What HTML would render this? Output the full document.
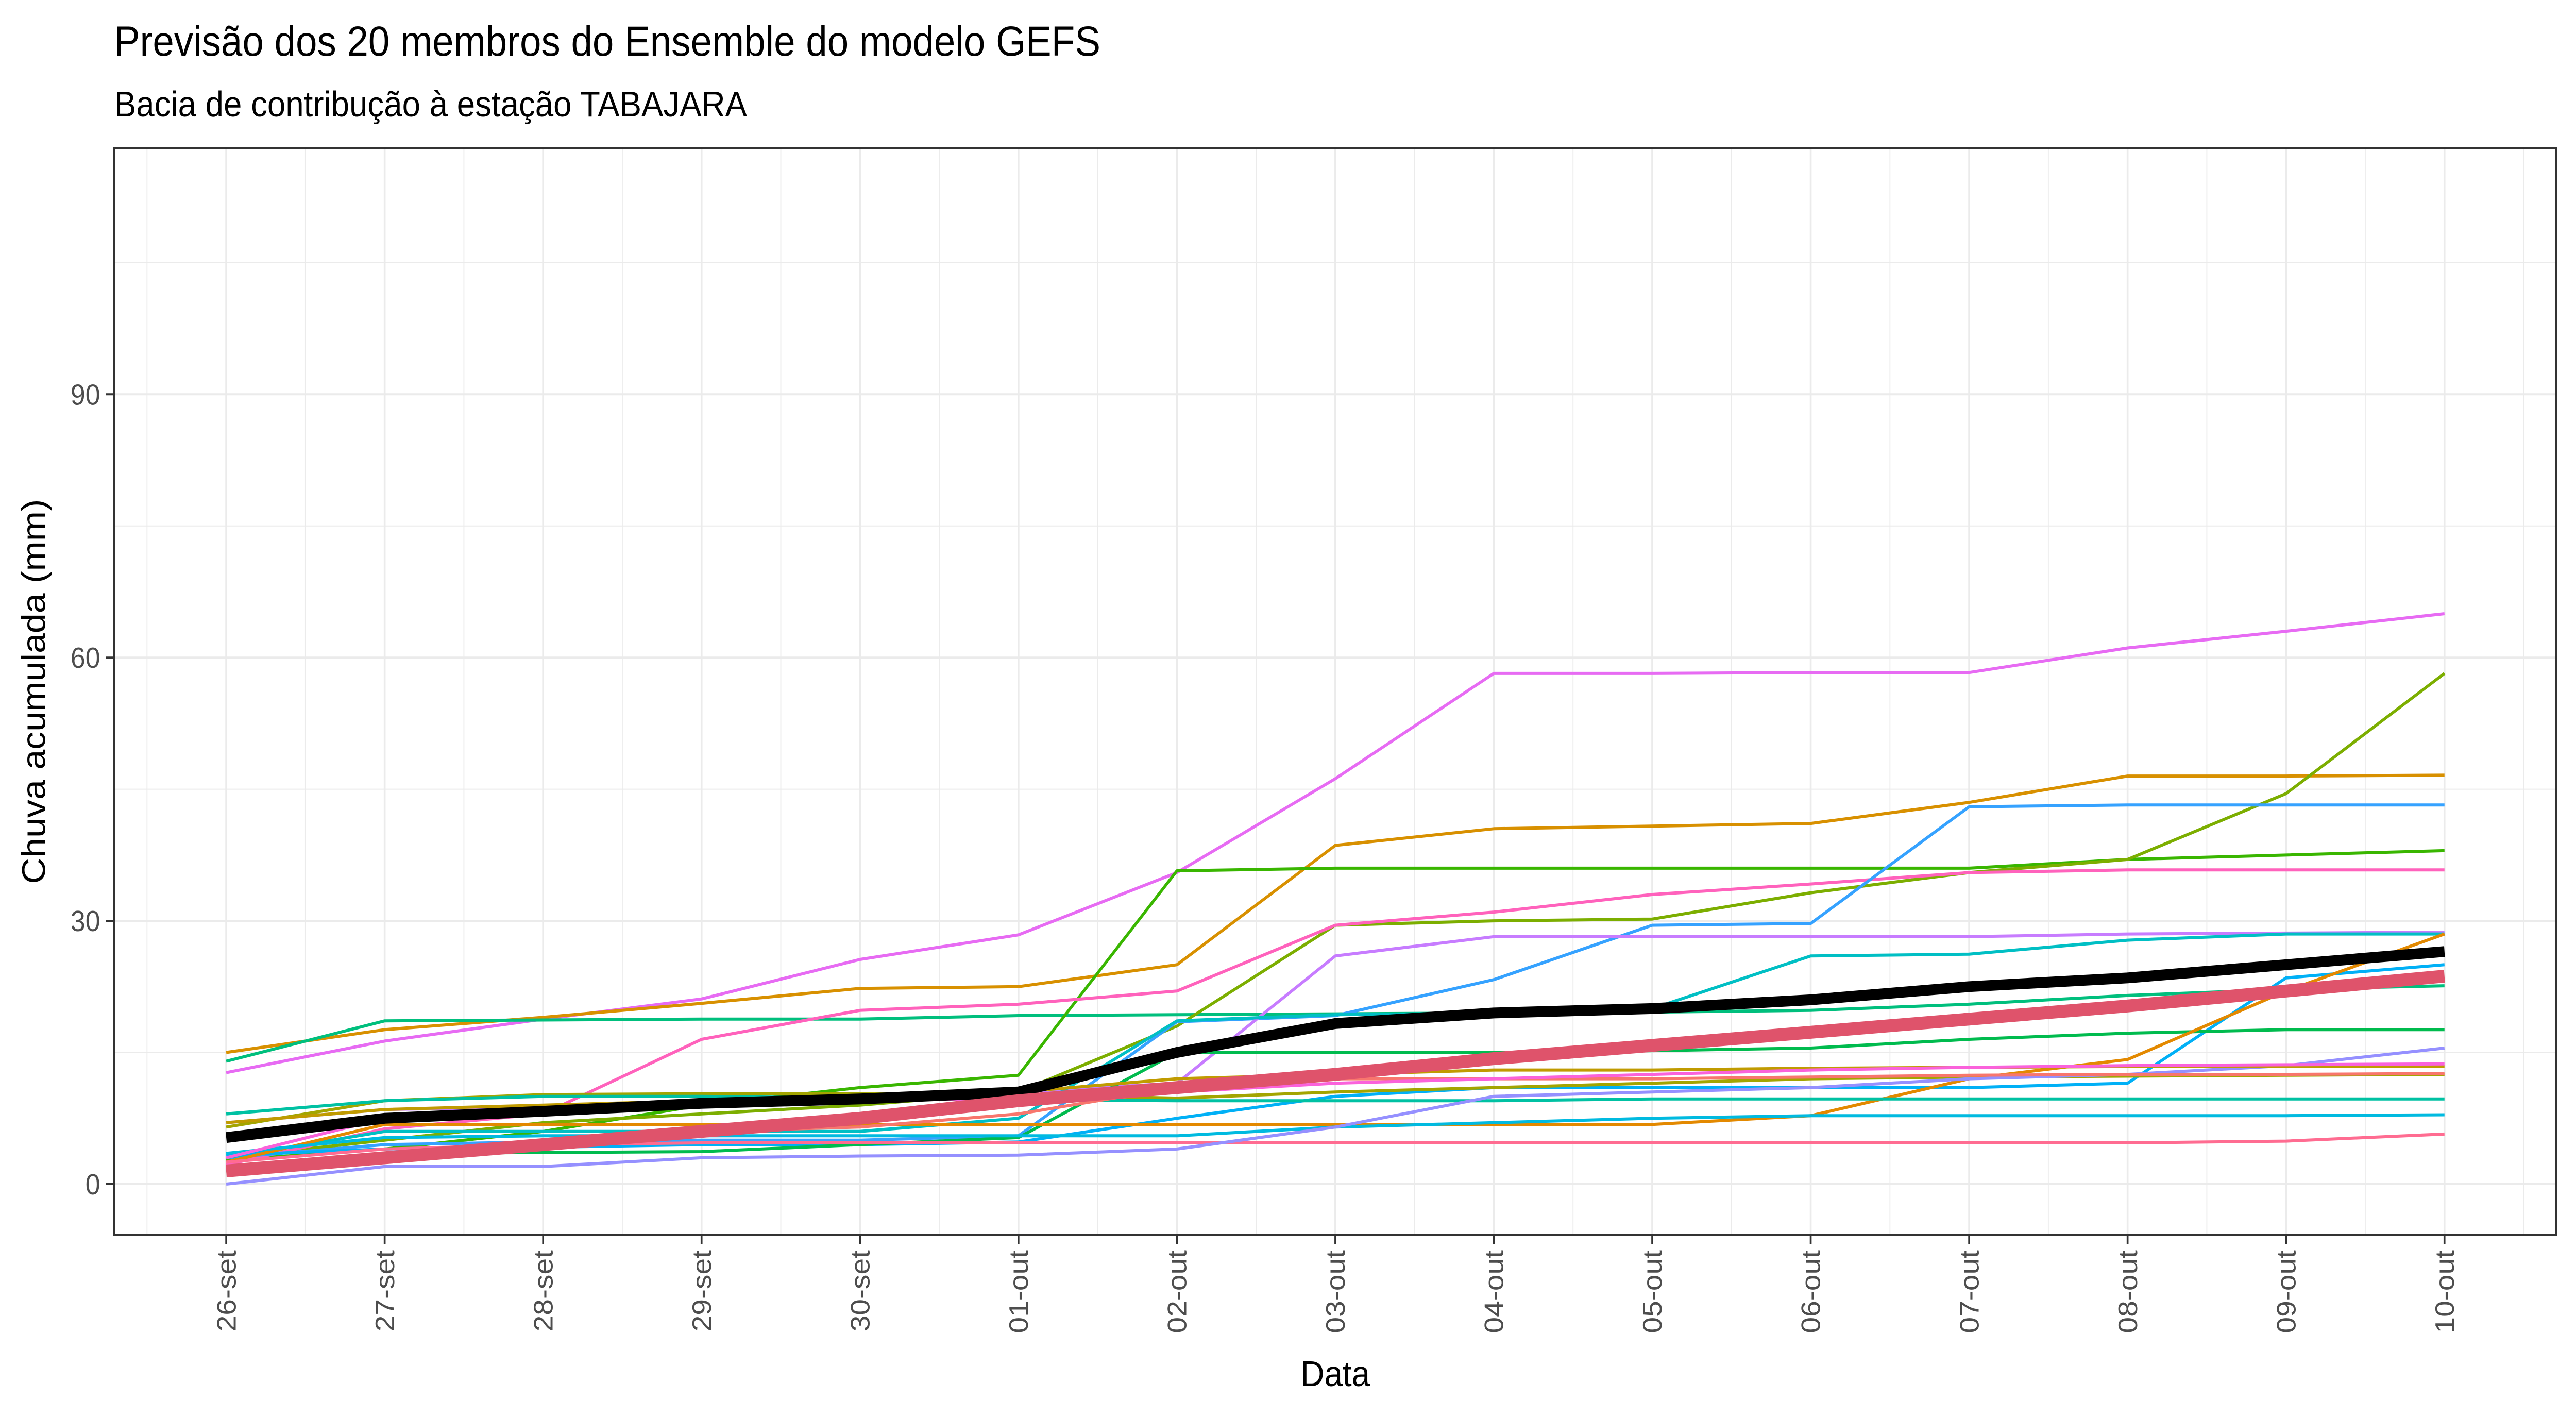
<!DOCTYPE html>
<html><head><meta charset="utf-8"><style>
html,body{margin:0;padding:0;background:#fff;overflow:hidden;width:100%;height:100%}
svg{display:block;width:100vw;height:100vh;font-family:"Liberation Sans",Arial,sans-serif}
</style></head><body>
<svg id="chart" viewBox="0 0 5500 2750" preserveAspectRatio="none" xmlns="http://www.w3.org/2000/svg">
<rect width="5500" height="2750" fill="#fff"/>
<text x="244" y="108" font-size="82" fill="#000">Previsão dos 20 membros do Ensemble do modelo GEFS</text>
<text x="244" y="226" font-size="70" fill="#000">Bacia de contribução à estação TABAJARA</text>
<g id="grid"></g>
<g id="series"></g>
<rect x="244" y="288" width="5214" height="2108" fill="none" stroke="#333" stroke-width="4"/>
<g id="axes"></g>
<text x="2851" y="2690" font-size="70" text-anchor="middle" fill="#000">Data</text>
<text transform="translate(96,1342) rotate(-90)" font-size="70" text-anchor="middle" fill="#000">Chuva acumulada (mm)</text>
</svg>
<script>
const categories=["26-set","27-set","28-set","29-set","30-set","01-out","02-out","03-out","04-out","05-out","06-out","07-out","08-out","09-out","10-out"];
const yTicks=[0,30,60,90];
const yMinor=[15,45,75,105];
const memberColors=["#E76BF3","#D89000","#00BF7D","#39B600","#7CAE00","#FF62BC","#35A2FF","#C77CFF","#00BFC4","#00B0F6","#A3A500","#00BB4E","#E38900","#00C1A3","#00BAE0","#FF6C91","#9590FF","#F8766D","#C09B00","#FA62DB"];
const m1=[12.7,16.3,18.8,21.1,25.6,28.4,35.5,46.2,58.2,58.2,58.3,58.3,61.1,63,65];
const m2=[15,17.6,19,20.6,22.3,22.5,25,38.6,40.5,40.8,41.1,43.5,46.5,46.5,46.6];
const m3=[14,18.6,18.7,18.8,18.8,19.2,19.3,19.4,19.5,19.6,19.8,20.5,21.5,22.2,22.6];
const m4=[2.7,4,6,9,11,12.4,35.7,36,36,36,36,36,37,37.5,38];
const m5=[3,5,7,8,9,10.5,18,29.5,30,30.2,33.2,35.5,37,44.5,58.2];
const m6=[2.2,6.3,8,16.5,19.8,20.5,22,29.5,31,33,34.2,35.5,35.8,35.8,35.8];
const m7=[3,4.5,4.8,5,5,5.5,18.5,19.2,23.3,29.5,29.7,43,43.2,43.2,43.2];
const m8=[7,8.5,8.8,9.2,9.5,10.5,11.5,26,28.2,28.2,28.2,28.2,28.5,28.6,28.7];
const m9=[3,6,6,6,6,7.5,18.6,19.3,19.5,20,26,26.2,27.8,28.5,28.5];
const m10=[3.3,4,4.2,4.5,4.5,4.8,7.5,10,11,11,11,11,11.5,23.5,25];
const m11=[6.5,9.5,10.2,10.3,10.3,10.2,9.8,10.5,11,11.5,12,12.2,12.3,12.4,12.5];
const m12=[1.5,3.5,3.6,3.7,4.5,5.3,15,15,15,15.2,15.5,16.5,17.2,17.6,17.6];
const m13=[2.5,6.8,6.8,6.8,6.8,6.8,6.8,6.8,6.8,6.8,7.8,12,14.2,22,28.5];
const m14=[8,9.5,10,10,9.8,9.6,9.5,9.5,9.5,9.7,9.7,9.7,9.7,9.7,9.7];
const m15=[3.5,5.3,5.5,5.5,5.5,5.5,5.5,6.5,7,7.5,7.8,7.8,7.8,7.8,7.9];
const m16=[2.5,4,4.5,4.7,4.7,4.7,4.7,4.7,4.7,4.7,4.7,4.7,4.7,4.9,5.7];
const m17=[0,2,2,3,3.2,3.3,4,6.5,10,10.5,11,12,12.5,13.5,15.5];
const m18=[1.5,3,5,6,6.5,8,11,12,12,12,12.2,12.4,12.5,12.5,12.6];
const m19=[7,8.5,9,9.5,10,10.5,12,12.5,13,13,13.2,13.3,13.4,13.4,13.4];
const m20=[3,7.5,8.5,9,9.5,9.8,10.5,11.5,12,12.5,13,13.3,13.5,13.6,13.7];
const members=[m1,m2,m3,m4,m5,m6,m7,m8,m9,m10,m11,m12,m13,m14,m15,m16,m17,m18,m19,m20];
const meanSeries=[5.3,7.5,8.3,9.2,9.7,10.5,15,18.3,19.5,20,21,22.5,23.5,25,26.5];
const redSeries=[1.5,3,4.5,6,7.5,9.5,11,12.5,14.3,15.8,17.3,18.8,20.3,22,23.7];

const NS="http://www.w3.org/2000/svg";
const PL=244,PR=5458,PT=288,PB=2396;
const X0=483,XSTEP=338.3;
const Y0=2298,YUNIT=17.03;
function xs(i){return X0+i*XSTEP;}
function ys(v){return Y0-v*YUNIT;}
function mk(tag,attrs,parent){const e=document.createElementNS(NS,tag);for(const k in attrs)e.setAttribute(k,attrs[k]);parent.appendChild(e);return e;}
const grid=document.getElementById('grid'),series=document.getElementById('series'),axes=document.getElementById('axes');
yMinor.forEach(v=>{const l=mk('line',{x1:PL,x2:PR,y1:ys(v),y2:ys(v),stroke:'#EBEBEB','stroke-width':2},grid);

});
for(let i=-0.5;i<=categories.length;i+=1){const x=xs(i);if(x<PL||x>PR)continue;const l=mk('line',{x1:x,x2:x,y1:PT,y2:PB,stroke:'#EBEBEB','stroke-width':2},grid);

}
yTicks.forEach(v=>{const l=mk('line',{x1:PL,x2:PR,y1:ys(v),y2:ys(v),stroke:'#EBEBEB','stroke-width':4},grid);


const t=mk('line',{x1:PL-18,x2:PL,y1:ys(v),y2:ys(v),stroke:'#333','stroke-width':4},axes);


const tx=mk('text',{x:PL-30,y:ys(v)+20,'font-size':57,'text-anchor':'end',fill:'#4D4D4D'},axes);tx.textContent=v;

});
categories.forEach((c,i)=>{const x=xs(i);
const l=mk('line',{x1:x,x2:x,y1:PT,y2:PB,stroke:'#EBEBEB','stroke-width':4},grid);


const t=mk('line',{x1:x,x2:x,y1:PB,y2:PB+18,stroke:'#333','stroke-width':4},axes);


const tx=mk('text',{transform:`translate(${x+20},${PB+30}) rotate(-90)`,'font-size':57,'text-anchor':'end',fill:'#4D4D4D'},axes);tx.textContent=c;

});
function pts(arr){return arr.map((v,i)=>xs(i).toFixed(1)+','+ys(v).toFixed(1)).join(' ');}
members.forEach((m,k)=>{const p=mk('polyline',{points:pts(m),fill:'none',stroke:memberColors[k],'stroke-width':6,'stroke-linejoin':'round'},series);

});
const bl=mk('polyline',{points:pts(meanSeries),fill:'none',stroke:'#000','stroke-width':21,'stroke-linejoin':'round'},series);


const rl=mk('polyline',{points:pts(redSeries),fill:'none',stroke:'#DF536B','stroke-width':25,'stroke-linejoin':'round'},series);


</script>
</body></html>
